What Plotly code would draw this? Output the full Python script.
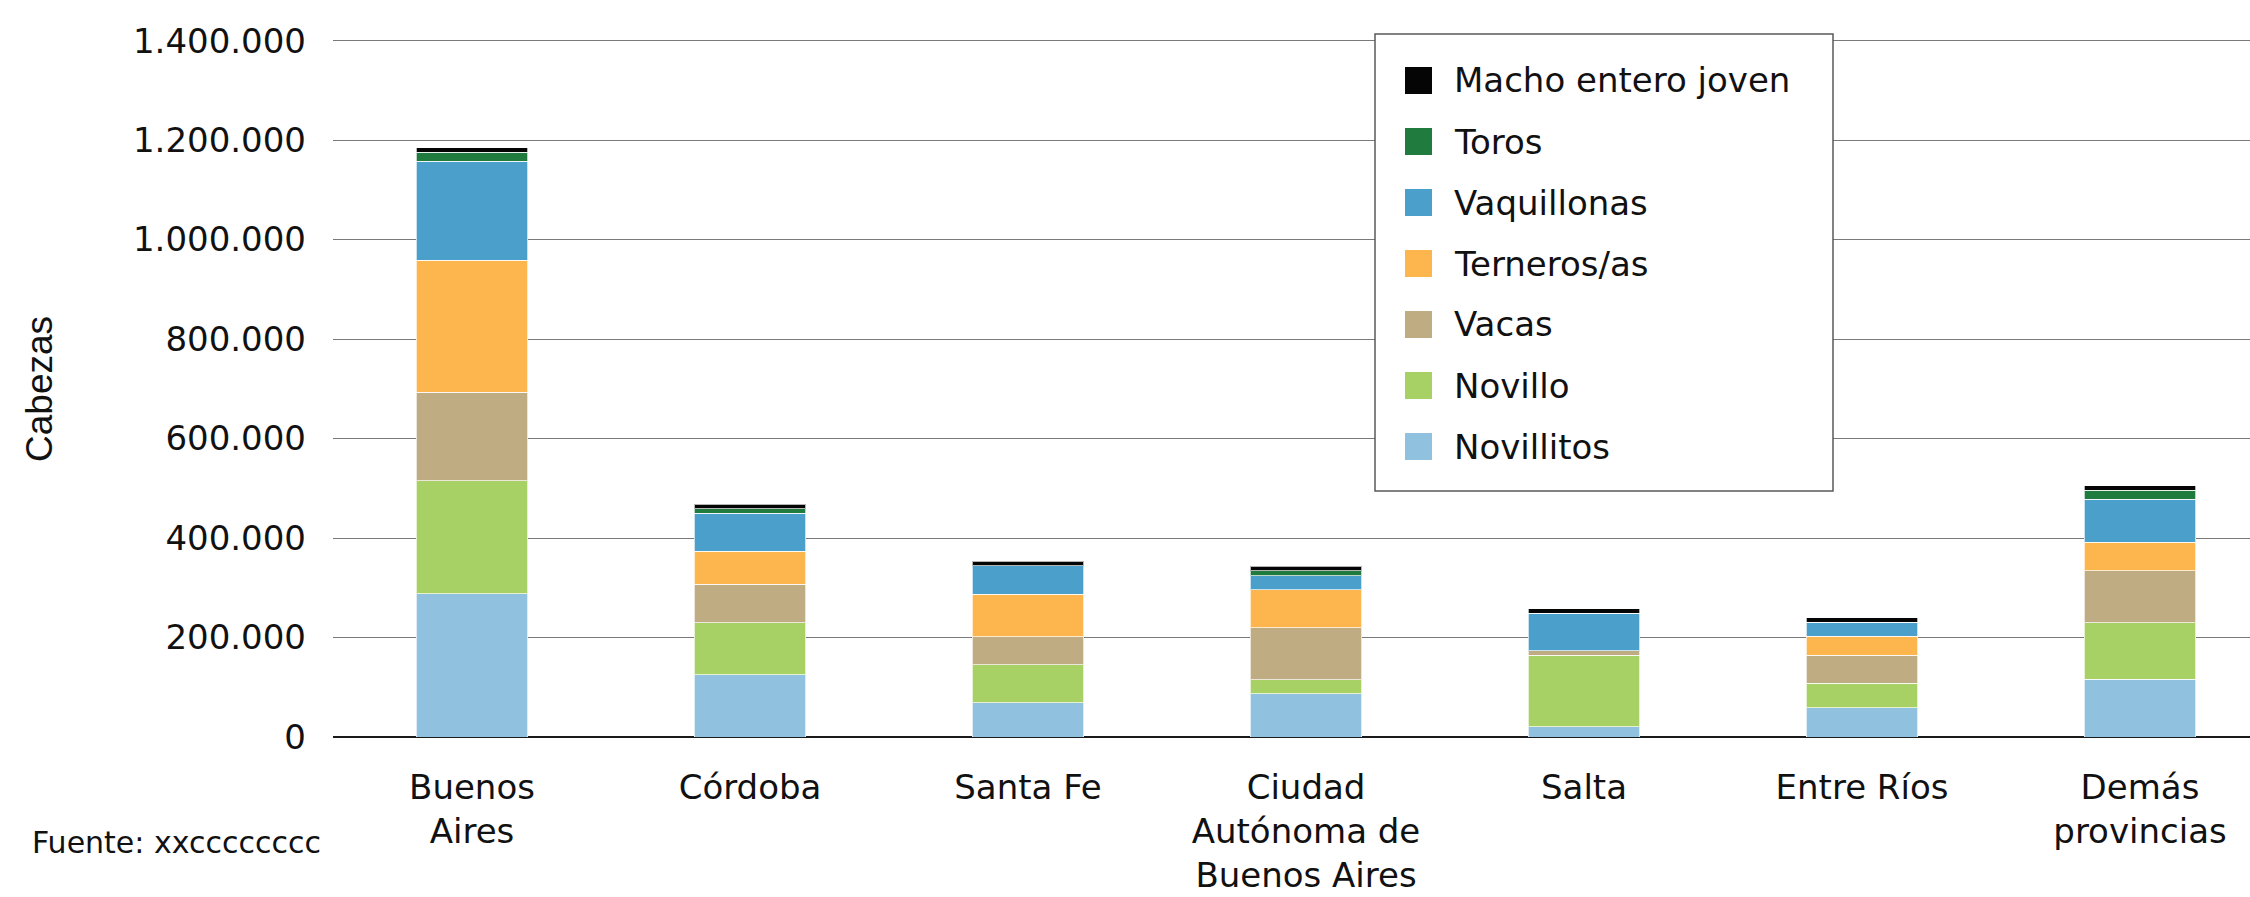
import plotly.graph_objects as go

# ---- data -------------------------------------------------------------
categories = ["Buenos<br>Aires", "Córdoba", "Santa Fe",
              "Ciudad<br>Autónoma de<br>Buenos Aires", "Salta",
              "Entre Ríos", "Demás<br>provincias"]

series_names = ["Novillitos", "Novillo", "Vacas", "Terneros/as",
                "Vaquillonas", "Toros", "Macho entero joven"]

novillitos = [288000, 125000, 69000, 87000, 21000, 59000, 116000]
novillo = [227000, 105000, 76000, 28000, 143000, 49000, 114000]
vacas = [178000, 77000, 57000, 105000, 9000, 56000, 104000]
terneros = [265000, 66000, 85000, 76000, 0, 39000, 58000]
vaquillonas = [199000, 77000, 57000, 28000, 76000, 28000, 86000]
toros = [19000, 9000, 0, 10000, 0, 0, 18000]
macho = [9000, 9000, 9000, 9000, 9000, 9000, 9000]

series_values = [novillitos, novillo, vacas, terneros, vaquillonas, toros, macho]
series_colors = ["#90C1DE", "#A8D165", "#BFAC82", "#FDB54E",
                 "#4B9FCB", "#207B3E", "#050505"]

y_ticks = [0, 200000, 400000, 600000, 800000, 1000000, 1200000, 1400000]
y_tick_labels = ["0", "200.000", "400.000", "600.000", "800.000",
                 "1.000.000", "1.200.000", "1.400.000"]

# ---- layout geometry (pixels) ------------------------------------------
W, H = 2250, 897
L_M, R_M, T_M, B_M = 333, 0, 38, 160
PW = W - L_M - R_M
PH = H - T_M - B_M
SLOT = 278.0
Y_MAX = 1400000 * PH / 696.4   # keeps 1.400.000 gridline just inside the plot
FONT = "DejaVu Sans"


def px_x(p):
    return (p - L_M) / PW


def px_y(p):
    return (T_M + PH - p) / PH


fig = go.Figure()
for name, vals, col in zip(series_names, series_values, series_colors):
    fig.add_trace(go.Bar(
        x=categories, y=vals, name=name,
        marker=dict(color=col, line=dict(color="rgba(255,255,255,0.7)", width=1)),
        showlegend=False,
    ))

shapes = []
annotations = []

# legend box (manual, reproduces the large swatches of the reference)
shapes.append(dict(type="rect", xref="paper", yref="paper",
                   x0=px_x(1375), x1=px_x(1833), y0=px_y(491), y1=px_y(34),
                   line=dict(color="#5a5a5a", width=1.5), fillcolor="white",
                   layer="above"))
legend_order = list(range(len(series_names)))[::-1]
for i, idx in enumerate(legend_order):
    cy = 80.5 + i * 61
    shapes.append(dict(type="rect", xref="paper", yref="paper",
                       x0=px_x(1405), x1=px_x(1432),
                       y0=px_y(cy + 13.5), y1=px_y(cy - 13.5),
                       line=dict(width=0), fillcolor=series_colors[idx],
                       layer="above"))
    annotations.append(dict(xref="paper", yref="paper", x=px_x(1452), y=px_y(cy),
                            xanchor="left", yanchor="middle", showarrow=False,
                            text=series_names[idx],
                            font=dict(family=FONT, size=34, color="#111111")))

# y-axis title
annotations.append(dict(xref="paper", yref="paper", x=px_x(40), y=px_y(389),
                        xanchor="center", yanchor="middle", showarrow=False,
                        text="Cabezas", textangle=-90,
                        font=dict(family="Liberation Sans", size=37, color="#111111")))
# source note
annotations.append(dict(xref="paper", yref="paper", x=px_x(30), y=px_y(842),
                        xanchor="left", yanchor="middle", showarrow=False,
                        text="Fuente: xxcccccccc",
                        font=dict(family=FONT, size=30, color="#111111")))

fig.update_layout(
    width=W, height=H,
    margin=dict(l=L_M, r=R_M, t=T_M, b=B_M, pad=0),
    paper_bgcolor="white", plot_bgcolor="white",
    barmode="stack", bargap=0.6,
    showlegend=False,
    font=dict(family=FONT, size=34, color="#111111"),
    shapes=shapes, annotations=annotations,
    xaxis=dict(type="category", range=[-0.5, PW / SLOT - 0.5],
               showgrid=False, showline=False, ticks="",
               tickfont=dict(family=FONT, size=34, color="#111111"),
               ticklabelstandoff=27),
    yaxis=dict(range=[0, Y_MAX], tickvals=y_ticks, ticktext=y_tick_labels,
               showgrid=True, gridcolor="#7a7a7a", gridwidth=1.3,
               zeroline=True, zerolinecolor="#1a1a1a", zerolinewidth=2,
               showline=False, ticks="",
               tickfont=dict(family=FONT, size=34, color="#111111"),
               ticklabelstandoff=26),
)

fig.write_html("out.html",
               config={"displayModeBar": False},
               post_script="document.body.style.margin='0';document.body.style.overflow='hidden';")
